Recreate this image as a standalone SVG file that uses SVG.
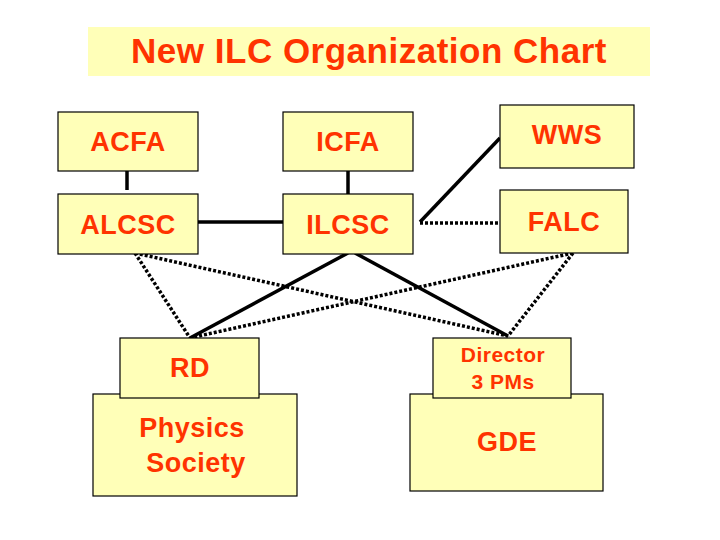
<svg xmlns="http://www.w3.org/2000/svg" width="720" height="540" viewBox="0 0 720 540">
<style>
.b{fill:#FFFFB8;stroke:#000;stroke-width:1.2}
.t{font-family:"Liberation Sans",Arial,sans-serif;font-weight:bold;fill:#FF3300;text-anchor:middle;font-size:27px;letter-spacing:0.5px}
.s{stroke:#000;stroke-width:3.5;fill:none}
.d{stroke:#000;stroke-width:3.5;stroke-dasharray:3 2;fill:none}
</style>
<rect width="720" height="540" fill="#fff"/>
<g id="title"><rect x="88" y="27" width="562" height="49" fill="#FFFFB8"/><text class="t" x="369" y="63" style="font-size:35px">New ILC Organization Chart</text></g>
<g id="connectors">
<line class="s" x1="127" y1="171" x2="127" y2="190"/>
<line class="s" x1="348" y1="171" x2="348" y2="197"/>
<line class="s" x1="198" y1="222" x2="283" y2="222"/>
<line class="s" x1="420" y1="222" x2="500" y2="138"/>
<line class="d" x1="420" y1="223" x2="500" y2="223"/>
<line class="d" x1="135" y1="253" x2="190" y2="338"/>
<line class="d" x1="135" y1="253" x2="508" y2="336"/>
<line class="d" x1="573" y1="253" x2="190" y2="338"/>
<line class="d" x1="573" y1="253" x2="508" y2="336"/>
<line class="s" x1="348" y1="253" x2="190" y2="338"/>
<line class="s" x1="355" y1="253" x2="508" y2="336"/>
</g>
<g id="acfa"><rect class="b" x="58" y="112" width="140" height="59"/><text class="t" x="128" y="151">ACFA</text></g>
<g id="icfa"><rect class="b" x="283" y="112" width="130" height="59"/><text class="t" x="348" y="151">ICFA</text></g>
<g id="wws"><rect class="b" x="500" y="105" width="134" height="63"/><text class="t" x="567" y="144">WWS</text></g>
<g id="alcsc"><rect class="b" x="58" y="194" width="140" height="60"/><text class="t" x="128" y="234">ALCSC</text></g>
<g id="ilcsc"><rect class="b" x="283" y="194" width="130" height="60"/><text class="t" x="348" y="234">ILCSC</text></g>
<g id="falc"><rect class="b" x="500" y="190" width="128" height="63"/><text class="t" x="564" y="231">FALC</text></g>
<g id="physics"><rect class="b" x="93" y="394" width="204" height="102"/><text class="t" x="192" y="437">Physics</text><text class="t" x="196" y="472">Society</text></g>
<g id="rd"><rect class="b" x="120" y="338" width="139" height="60"/><text class="t" x="190" y="377">RD</text></g>
<g id="gde"><rect class="b" x="410" y="394" width="193" height="97"/><text class="t" x="507" y="451">GDE</text></g>
<g id="director"><rect class="b" x="433" y="338" width="138" height="60"/><text class="t" x="503" y="362" style="font-size:21px">Director</text><text class="t" x="503" y="389" style="font-size:21px">3 PMs</text></g>
</svg>
